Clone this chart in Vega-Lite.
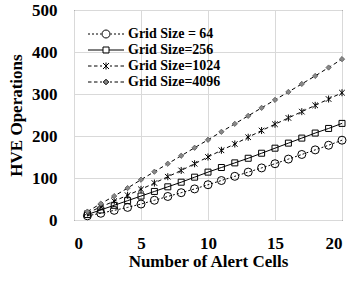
{
  "$schema": "https://vega.github.io/schema/vega-lite/v6.json",
  "width": 268,
  "height": 210,
  "autosize": "none",
  "padding": {"left": 74, "top": 10, "right": 13, "bottom": 62},
  "background": "white",
  "config": {
    "view": {"stroke": "black", "strokeWidth": 1},
    "font": "Liberation Serif",
    "axis": {
      "labelFont": "Liberation Serif", "labelFontSize": 17, "labelFontWeight": "bold", "labelColor": "black",
      "titleFont": "Liberation Serif", "titleFontSize": 17, "titleFontWeight": "bold", "titleColor": "black",
      "gridColor": "#d9d9d9", "gridWidth": 1, "ticks": false, "domain": false
    }
  },
  "datasets": {
    "d": [
      {"x": 1, "s": "Grid Size = 64", "y": 10}, {"x": 2, "s": "Grid Size = 64", "y": 16}, {"x": 3, "s": "Grid Size = 64", "y": 23}, {"x": 4, "s": "Grid Size = 64", "y": 30}, {"x": 5, "s": "Grid Size = 64", "y": 38},
      {"x": 6, "s": "Grid Size = 64", "y": 47}, {"x": 7, "s": "Grid Size = 64", "y": 56}, {"x": 8, "s": "Grid Size = 64", "y": 65}, {"x": 9, "s": "Grid Size = 64", "y": 74}, {"x": 10, "s": "Grid Size = 64", "y": 84},
      {"x": 11, "s": "Grid Size = 64", "y": 94}, {"x": 12, "s": "Grid Size = 64", "y": 104}, {"x": 13, "s": "Grid Size = 64", "y": 114}, {"x": 14, "s": "Grid Size = 64", "y": 124}, {"x": 15, "s": "Grid Size = 64", "y": 134},
      {"x": 16, "s": "Grid Size = 64", "y": 145}, {"x": 17, "s": "Grid Size = 64", "y": 156}, {"x": 18, "s": "Grid Size = 64", "y": 167}, {"x": 19, "s": "Grid Size = 64", "y": 178}, {"x": 20, "s": "Grid Size = 64", "y": 190},
      {"x": 1, "s": "Grid Size=256", "y": 13}, {"x": 2, "s": "Grid Size=256", "y": 24}, {"x": 3, "s": "Grid Size=256", "y": 35}, {"x": 4, "s": "Grid Size=256", "y": 46}, {"x": 5, "s": "Grid Size=256", "y": 57},
      {"x": 6, "s": "Grid Size=256", "y": 68}, {"x": 7, "s": "Grid Size=256", "y": 79}, {"x": 8, "s": "Grid Size=256", "y": 90}, {"x": 9, "s": "Grid Size=256", "y": 102}, {"x": 10, "s": "Grid Size=256", "y": 114},
      {"x": 11, "s": "Grid Size=256", "y": 125}, {"x": 12, "s": "Grid Size=256", "y": 136}, {"x": 13, "s": "Grid Size=256", "y": 147}, {"x": 14, "s": "Grid Size=256", "y": 159}, {"x": 15, "s": "Grid Size=256", "y": 171},
      {"x": 16, "s": "Grid Size=256", "y": 183}, {"x": 17, "s": "Grid Size=256", "y": 195}, {"x": 18, "s": "Grid Size=256", "y": 207}, {"x": 19, "s": "Grid Size=256", "y": 218}, {"x": 20, "s": "Grid Size=256", "y": 230},
      {"x": 1, "s": "Grid Size=1024", "y": 17}, {"x": 2, "s": "Grid Size=1024", "y": 31}, {"x": 3, "s": "Grid Size=1024", "y": 45}, {"x": 4, "s": "Grid Size=1024", "y": 59}, {"x": 5, "s": "Grid Size=1024", "y": 73},
      {"x": 6, "s": "Grid Size=1024", "y": 88}, {"x": 7, "s": "Grid Size=1024", "y": 103}, {"x": 8, "s": "Grid Size=1024", "y": 118}, {"x": 9, "s": "Grid Size=1024", "y": 134}, {"x": 10, "s": "Grid Size=1024", "y": 150},
      {"x": 11, "s": "Grid Size=1024", "y": 166}, {"x": 12, "s": "Grid Size=1024", "y": 181}, {"x": 13, "s": "Grid Size=1024", "y": 197}, {"x": 14, "s": "Grid Size=1024", "y": 213}, {"x": 15, "s": "Grid Size=1024", "y": 228},
      {"x": 16, "s": "Grid Size=1024", "y": 243}, {"x": 17, "s": "Grid Size=1024", "y": 258}, {"x": 18, "s": "Grid Size=1024", "y": 273}, {"x": 19, "s": "Grid Size=1024", "y": 288}, {"x": 20, "s": "Grid Size=1024", "y": 303},
      {"x": 1, "s": "Grid Size=4096", "y": 20}, {"x": 2, "s": "Grid Size=4096", "y": 39}, {"x": 3, "s": "Grid Size=4096", "y": 57}, {"x": 4, "s": "Grid Size=4096", "y": 76}, {"x": 5, "s": "Grid Size=4096", "y": 96},
      {"x": 6, "s": "Grid Size=4096", "y": 115}, {"x": 7, "s": "Grid Size=4096", "y": 134}, {"x": 8, "s": "Grid Size=4096", "y": 153}, {"x": 9, "s": "Grid Size=4096", "y": 172}, {"x": 10, "s": "Grid Size=4096", "y": 191},
      {"x": 11, "s": "Grid Size=4096", "y": 210}, {"x": 12, "s": "Grid Size=4096", "y": 229}, {"x": 13, "s": "Grid Size=4096", "y": 248}, {"x": 14, "s": "Grid Size=4096", "y": 267}, {"x": 15, "s": "Grid Size=4096", "y": 286},
      {"x": 16, "s": "Grid Size=4096", "y": 305}, {"x": 17, "s": "Grid Size=4096", "y": 324}, {"x": 18, "s": "Grid Size=4096", "y": 343}, {"x": 19, "s": "Grid Size=4096", "y": 363}, {"x": 20, "s": "Grid Size=4096", "y": 383}
    ]
  },
  "data": {"name": "d"},
  "encoding": {
    "x": {"field": "x", "type": "quantitative", "scale": {"domain": [0, 20]},
      "axis": {"values": [0, 5, 10, 15, 20], "title": "Number of Alert Cells", "labelPadding": 15, "titlePadding": 2,
        "labelFont": "Liberation Serif", "labelFontWeight": "bold", "labelFontSize": 17}},
    "y": {"field": "y", "type": "quantitative", "scale": {"domain": [0, 500]},
      "axis": {"values": [0, 100, 200, 300, 400, 500], "title": "HVE Operations", "labelPadding": 17, "titlePadding": 6,
        "labelFont": "Liberation Serif", "labelFontWeight": "bold", "labelFontSize": 17}}
  },
  "layer": [
    {
      "transform": [{"filter": "datum.s === 'Grid Size = 64'"}],
      "mark": {"type": "line", "color": "black", "strokeWidth": 1, "strokeDash": [2, 2]}
    },
    {
      "transform": [{"filter": "datum.s === 'Grid Size=256'"}],
      "mark": {"type": "line", "color": "black", "strokeWidth": 1}
    },
    {
      "transform": [{"filter": "datum.s === 'Grid Size=1024'"}],
      "mark": {"type": "line", "color": "black", "strokeWidth": 1, "strokeDash": [4, 3]}
    },
    {
      "transform": [{"filter": "datum.s === 'Grid Size=4096'"}],
      "mark": {"type": "line", "color": "black", "strokeWidth": 1, "strokeDash": [4, 3]}
    },
    {
      "transform": [{"filter": "datum.s === 'Grid Size = 64'"}],
      "mark": {"type": "point", "shape": "circle", "filled": false, "stroke": "black", "strokeWidth": 1, "size": 64, "opacity": 1}
    },
    {
      "transform": [{"filter": "datum.s === 'Grid Size=256'"}],
      "mark": {"type": "point", "shape": "square", "filled": false, "stroke": "black", "strokeWidth": 1, "size": 36, "opacity": 1}
    },
    {
      "transform": [{"filter": "datum.s === 'Grid Size=1024'"}],
      "mark": {"type": "point", "shape": "M0,-1V1M-0.8,-0.8L0.8,0.8M-0.8,0.8L0.8,-0.8", "filled": false, "stroke": "black", "strokeWidth": 1, "size": 49, "opacity": 1}
    },
    {
      "transform": [{"filter": "datum.s === 'Grid Size=4096'"}],
      "mark": {"type": "point", "shape": "diamond", "filled": true, "fill": "#888888", "stroke": "#555555", "strokeWidth": 0.8, "size": 28, "opacity": 1}
    },
    {
      "mark": {"type": "point", "filled": true, "stroke": "black", "strokeWidth": 1, "size": 100, "opacity": 0},
      "encoding": {
        "shape": {"field": "s", "type": "nominal",
          "scale": {"domain": ["Grid Size = 64", "Grid Size=256", "Grid Size=1024", "Grid Size=4096"],
            "range": [
              "M-3.6,0H-3.2M-2.8,0H-2.4M-2,0H-1.6M-1.2,0H-0.9M-0.8,0A0.8,0.8 0 1,0 0.8,0A0.8,0.8 0 1,0 -0.8,0M0.9,0H1.2M1.6,0H2M2.4,0H2.8M3.2,0H3.6",
              "M-3.6,0H-0.6M-0.6,-0.6H0.6V0.6H-0.6ZM0.6,0H3.6",
              "M-3.6,0H-2.9M-2.4,0H-1.7M-1.2,0H-0.8M0,-0.7V0.7M-0.6,-0.6L0.6,0.6M-0.6,0.6L0.6,-0.6M0.8,0H1.2M1.7,0H2.4M2.9,0H3.6",
              "M-3.6,0H-2.9M-2.4,0H-1.7M-1.2,0H-0.8M0,-0.55L0.55,0L0,0.55L-0.55,0ZM0.8,0H1.2M1.7,0H2.4M2.9,0H3.6"
            ]},
          "legend": {"orient": "none", "legendX": 25, "legendY": 17, "title": null,
            "labelFont": "Liberation Serif", "labelFontSize": 14, "labelFontWeight": "bold", "labelColor": "black",
            "symbolSize": 100, "symbolStrokeWidth": 1, "symbolStrokeColor": "black", "labelOffset": 15, "rowPadding": 2, "symbolOpacity": 1, "padding": 0,
            "encode": {"symbols": {"update": {"stroke": {"value": "black"}, "strokeOpacity": {"value": 1}, "strokeWidth": {"value": 1}, "opacity": {"value": 1}}}}}},
        "fill": {"field": "s", "type": "nominal",
          "scale": {"domain": ["Grid Size = 64", "Grid Size=256", "Grid Size=1024", "Grid Size=4096"],
            "range": ["transparent", "transparent", "transparent", "#888888"]},
          "legend": {"orient": "none", "legendX": 25, "legendY": 17, "title": null,
            "labelFont": "Liberation Serif", "labelFontSize": 14, "labelFontWeight": "bold", "labelColor": "black",
            "symbolSize": 100, "symbolStrokeWidth": 1, "symbolStrokeColor": "black", "labelOffset": 15, "rowPadding": 2, "symbolOpacity": 1, "padding": 0,
            "encode": {"symbols": {"update": {"stroke": {"value": "black"}, "strokeOpacity": {"value": 1}, "strokeWidth": {"value": 1}, "opacity": {"value": 1}}}}}}
      }
    }
  ]
}
